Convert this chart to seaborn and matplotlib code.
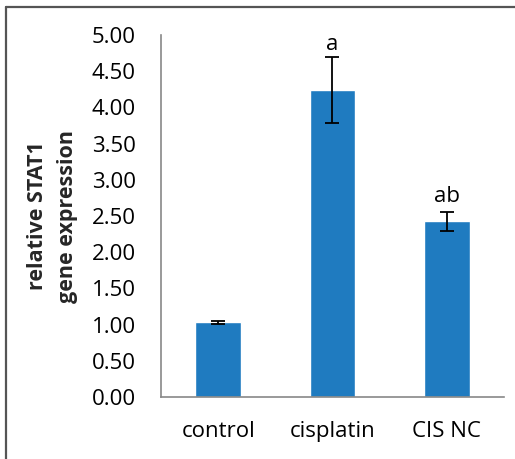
#importing libraries
import pandas as pd
import seaborn as sns
import matplotlib.pyplot as plt
from matplotlib.lines import Line2D

#data
groups = ['control', 'cisplatin', 'CIS NC']
expression = [1.03, 4.24, 2.43]
errors = [0.02, 0.46, 0.13]
letters = ['', 'a', 'ab']

df = pd.DataFrame({'group': groups, 'expression': expression})

sns.set_style('white')
plt.rcParams['font.family'] = ['Open Sans', 'DejaVu Sans']
plt.rcParams['text.color'] = 'black'
plt.rcParams['xtick.color'] = 'black'
plt.rcParams['ytick.color'] = 'black'

fig = plt.figure(figsize=(5.15, 4.59), dpi=100)
ax = fig.add_axes([0.3126, 0.135, 0.666, 0.7887])

sns.barplot(data=df, x='group', y='expression', color='#1f7bc0', width=0.4,
            saturation=1, ax=ax)
ax.errorbar(range(len(groups)), expression, yerr=errors, fmt='none',
            ecolor='black', elinewidth=1.3, capsize=5, capthick=1.3)

#significance letters above the error bars
offsets = [0, 0.02, 0.07]
for i, lab in enumerate(letters):
    if lab:
        ax.text(i, expression[i] + errors[i] + offsets[i], lab, ha='center',
                va='bottom', fontsize=16)

ax.set_ylim(0, 5)
ax.set_xlim(-0.5, 2.5)
ax.set_yticks([i * 0.5 for i in range(11)])
ax.set_yticklabels([f'{i * 0.5:.2f}' for i in range(11)])
ax.set_xticks([-0.5, 0.5, 1.5, 2.5], minor=True)
ax.tick_params(axis='x', which='major', length=0, labelsize=16, pad=17)
ax.tick_params(axis='x', which='minor', length=6, color='#888888', direction='out')
ax.tick_params(axis='y', length=6, color='#888888', direction='out', labelsize=16, pad=12)
ax.set_xlabel('')
ax.set_ylabel('relative STAT1\ngene expression', fontsize=15.5, fontweight='bold',
              labelpad=10, linespacing=1.55)

for s in ['top', 'right']:
    ax.spines[s].set_visible(False)
for s in ['left', 'bottom']:
    ax.spines[s].set_color('#888888')
    ax.spines[s].set_linewidth(1.2)

#outer frame of the picture
fig.add_artist(Line2D([6 / 515, 1], [1 - 7 / 459, 1 - 7 / 459], color='#555555', lw=1.6))
fig.add_artist(Line2D([6 / 515, 6 / 515], [0, 1 - 7 / 459], color='#555555', lw=1.6))

fig.savefig('out.png', dpi=100)
